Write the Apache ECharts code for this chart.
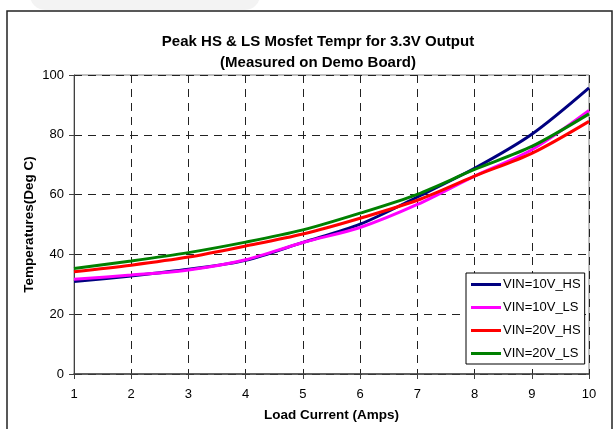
<!DOCTYPE html>
<html>
<head>
<meta charset="utf-8">
<script src="https://cdn.jsdelivr.net/npm/echarts@6/dist/echarts.min.js"></script>
<style>
  html, body { margin: 0; padding: 0; background: #fff; }
  #chart { width: 615px; height: 429px; }
</style>
</head>
<body>
<div id="chart"></div>
<script>
// load current (A)
const loadCurrent = [1, 2, 3, 4, 5, 6, 7, 8, 9, 10]
// peak mosfet temperature (deg C)
const vin10HS = [30.9, 32.8, 35.0, 38.0, 44.0, 50.1, 59.2, 68.8, 80.2, 95.7]
const vin10LS = [31.7, 33.1, 34.8, 38.2, 44.0, 49.0, 56.7, 66.2, 75.0, 88.1]
const vin20HS = [34.2, 36.4, 39.1, 42.8, 46.8, 52.1, 58.1, 66.2, 73.8, 84.5]
const vin20LS = [35.3, 37.8, 40.6, 44.1, 48.2, 53.8, 60.1, 68.4, 76.1, 87.0]

const seriesNames = ['VIN=10V_HS', 'VIN=10V_LS', 'VIN=20V_HS', 'VIN=20V_LS']
const seriesColors = ['#000080', '#ff00ff', '#ff0000', '#008000']
const seriesValues = [vin10HS, vin10LS, vin20HS, vin20LS]

const chart = echarts.init(document.getElementById('chart'))

const font = 'Arial, "Liberation Sans", sans-serif'

chart.setOption({
  animation: false,
  backgroundColor: '#fff',
  graphic: [
    {
      type: 'rect',
      shape: { x: 30, y: -20, width: 230, height: 30, r: 15 },
      style: { fill: '#f3f3f3' },
      silent: true,
    },
    {
      type: 'rect',
      shape: { x: 7, y: 11, width: 605, height: 430 },
      style: { fill: 'none', stroke: '#222', lineWidth: 1.5 },
      silent: true,
    },
  ],
  title: {
    text: 'Peak HS & LS Mosfet Tempr for 3.3V Output\n(Measured on Demo Board)',
    left: 313,
    top: 26,
    textAlign: 'center',
    textStyle: { fontFamily: font, fontSize: 15, fontWeight: 'bold', color: '#000', lineHeight: 21 },
  },
  grid: { left: 74, right: 26, top: 75, bottom: 55, show: true, borderColor: '#808080', borderWidth: 1 },
  legend: {
    orient: 'vertical',
    left: 466,
    top: 273,
    padding: [5, 4, 4, 5],
    itemGap: 10,
    itemWidth: 30,
    itemHeight: 3,
    icon: 'rect',
    backgroundColor: '#fff',
    borderColor: '#000',
    borderWidth: 1,
    borderRadius: 0,
    data: seriesNames,
    textStyle: { fontFamily: font, fontSize: 13, color: '#000', padding: [0, 0, 0, -3] },
  },
  xAxis: {
    type: 'value',
    min: 1,
    max: 10,
    interval: 1,
    name: 'Load Current (Amps)',
    nameLocation: 'middle',
    nameGap: 34,
    nameMoveOverlap: false,
    nameTextStyle: { fontFamily: font, fontSize: 13.5, fontWeight: 'bold', color: '#000' },
    axisLine: { lineStyle: { color: '#404040', width: 1.5 } },
    axisTick: { show: true, length: 5, lineStyle: { color: '#404040' } },
    axisLabel: { fontFamily: font, fontSize: 13, color: '#000', margin: 14 },
    splitLine: { show: true, lineStyle: { color: '#222', type: [8, 6], width: 1 } },
  },
  yAxis: {
    type: 'value',
    min: 0,
    max: 100,
    interval: 20,
    name: 'Temperatures(Deg C)',
    nameLocation: 'middle',
    nameGap: 38,
    nameMoveOverlap: false,
    nameTextStyle: { fontFamily: font, fontSize: 13.5, fontWeight: 'bold', color: '#000' },
    axisLine: { show: true, lineStyle: { color: '#404040', width: 1 } },
    axisTick: { show: true, length: 5, lineStyle: { color: '#404040' } },
    axisLabel: { fontFamily: font, fontSize: 13, color: '#000', margin: 10 },
    splitLine: { show: true, lineStyle: { color: '#222', type: [8, 6], width: 1 } },
  },
  series: seriesNames.map((name, i) => ({
    name,
    type: 'line',
    data: loadCurrent.map((x, j) => [x, seriesValues[i][j]]),
    smooth: 0.3,
    showSymbol: false,
    lineStyle: { color: seriesColors[i], width: 3 },
    itemStyle: { color: seriesColors[i] },
  })),
})
</script>
</body>
</html>
